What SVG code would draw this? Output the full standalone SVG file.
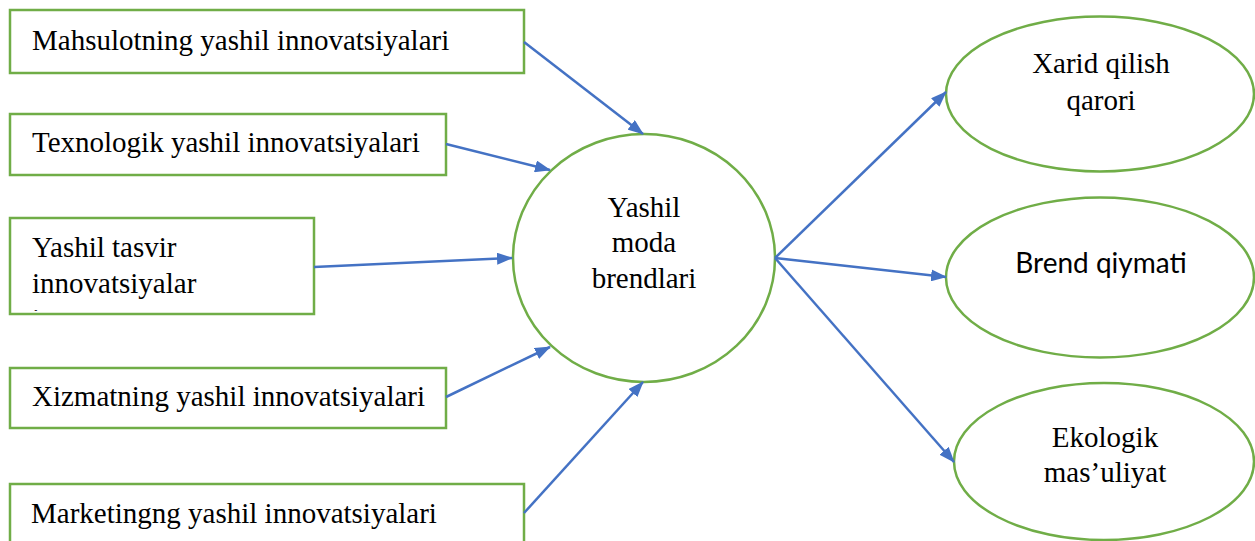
<svg xmlns="http://www.w3.org/2000/svg" width="1255" height="541" viewBox="0 0 1255 541">
<style>
.box{fill:#fff;stroke:#70AD47;stroke-width:2.5}
.ell{fill:#fff;stroke:#70AD47;stroke-width:2.5}
.t{font-family:"Liberation Serif","Times New Roman",serif;font-size:29px;fill:#000}
.c{text-anchor:middle}
.s{font-family:Lato,"Liberation Sans",sans-serif;font-size:28px;fill:#000;text-anchor:middle}
.con{stroke:#4472C4;stroke-width:2.5;fill:none;marker-end:url(#ah)}
</style>
<defs>
<marker id="ah" viewBox="0 0 16 12" refX="15" refY="6" markerWidth="16" markerHeight="12" markerUnits="userSpaceOnUse" orient="auto">
<path d="M0,0 L16,6 L0,12 z" fill="#4472C4"/>
</marker>
<clipPath id="clip3"><rect x="11" y="219" width="302" height="92"/></clipPath>
</defs>
<rect width="1255" height="541" fill="#fff"/>
<g id="n1"><rect class="box" x="10" y="10" width="514" height="63"/><text class="t" x="32" y="50">Mahsulotning yashil innovatsiyalari</text></g>
<g id="n2"><rect class="box" x="10" y="114" width="436" height="61"/><text class="t" x="32" y="152">Texnologik yashil innovatsiyalari</text></g>
<g id="n3"><rect class="box" x="10" y="218" width="304" height="96"/><g clip-path="url(#clip3)"><text class="t" x="32" y="257">Yashil tasvir</text><text class="t" x="32" y="293">innovatsiyalar</text><text class="t" x="32" y="329">i</text></g></g>
<g id="n4"><rect class="box" x="10" y="368" width="436" height="60"/><text class="t" x="32" y="406">Xizmatning yashil innovatsiyalari</text></g>
<g id="n5"><rect class="box" x="10" y="484" width="514" height="70"/><text class="t" x="31" y="523">Marketingng yashil innovatsiyalari</text></g>
<g id="center"><ellipse class="ell" cx="644" cy="258" rx="131" ry="124"/><text class="t c" x="644" y="217">Yashil</text><text class="t c" x="644" y="252">moda</text><text class="t c" x="644" y="288">brendlari</text></g>
<g id="o1"><ellipse class="ell" cx="1100" cy="94" rx="154" ry="77.5"/><text class="t c" x="1101" y="73">Xarid qilish</text><text class="t c" x="1101" y="110">qarori</text></g>
<g id="o2"><ellipse class="ell" cx="1100" cy="277.5" rx="154" ry="80"/><text class="s" x="1101" y="273">Brend qiymati</text></g>
<g id="o3"><ellipse class="ell" cx="1104" cy="461.5" rx="150" ry="78.5"/><text class="t c" x="1105" y="447">Ekologik</text><text class="t c" x="1105" y="482">mas’uliyat</text></g>
<g id="connectors">
<line class="con" x1="524" y1="42" x2="643" y2="134"/>
<line class="con" x1="446" y1="144" x2="550" y2="170"/>
<line class="con" x1="314" y1="267" x2="512" y2="258"/>
<line class="con" x1="446" y1="397" x2="550" y2="347"/>
<line class="con" x1="524" y1="513" x2="643" y2="382"/>
<line class="con" x1="775" y1="258" x2="946" y2="92"/>
<line class="con" x1="775" y1="258" x2="946" y2="277"/>
<line class="con" x1="775" y1="258" x2="954" y2="462"/>
</g>
</svg>
